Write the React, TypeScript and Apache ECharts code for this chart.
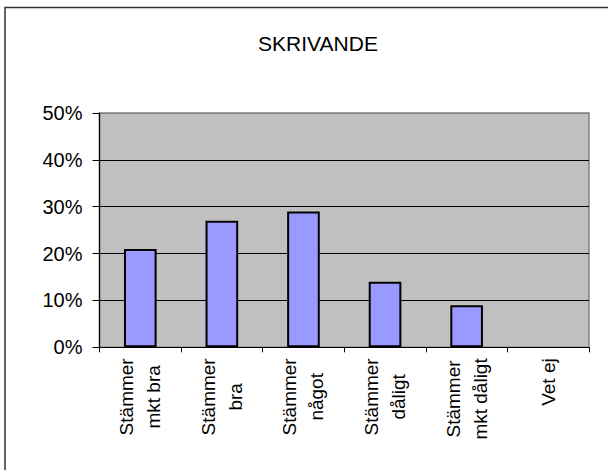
import React, { useEffect, useRef } from "react";
import * as echarts from "echarts";

const title = "SKRIVANDE";
const categories = [
  "Stämmer\nmkt bra",
  "Stämmer\nbra",
  "Stämmer\nnågot",
  "Stämmer\ndåligt",
  "Stämmer\nmkt dåligt",
  "Vet ej",
];
const values = [0.21, 0.27, 0.29, 0.14, 0.09, 0];
const yMin = 0;
const yMax = 0.5;
const yStep = 0.1;

const FONT = "'Liberation Sans', Arial, sans-serif";
const XFONT_SIZE = 19;
const XLINE_HEIGHT = 27;

const PLOT = { left: 99.5, right: 19, top: 113, bottom: 122.7 };

export default function App() {
  const ref = useRef<HTMLDivElement>(null);
  useEffect(() => {
    if (!ref.current) return;
    const canvas = document.createElement("canvas");
    const ctx = canvas.getContext("2d");
    const measure = (s: string) => {
      if (!ctx) return 0;
      ctx.font = `${XFONT_SIZE}px ${FONT}`;
      return ctx.measureText(s).width;
    };
    const splitLines = categories.map((c) => c.split("\n"));
    const half = XLINE_HEIGHT / 2;
    const grids = [
      { ...PLOT, show: true, backgroundColor: "#c0c0c0", borderColor: "#808080", borderWidth: 1.5 },
      { ...PLOT, left: PLOT.left - half, right: PLOT.right + half, show: false },
      { ...PLOT, left: PLOT.left + half, right: PLOT.right - half, show: false },
    ].map((g) => ({ ...g, containLabel: false, outerBoundsMode: "none" }));
    const labelStyle = {
      interval: 0,
      rotate: 90,
      margin: 11,
      color: "#000",
      fontFamily: FONT,
      fontSize: XFONT_SIZE,
      lineHeight: XLINE_HEIGHT,
    };
    const xAxes: any[] = [
      {
        type: "category",
        gridIndex: 0,
        position: "bottom",
        data: splitLines.map((lines) => (lines.length === 1 ? lines[0] : "")),
        boundaryGap: true,
        axisLine: { show: true, lineStyle: { color: "#000", width: 1.2 } },
        axisTick: { show: true, length: 5, inside: false, alignWithLabel: false, lineStyle: { color: "#000" } },
        splitLine: { show: false },
        axisLabel: labelStyle,
      },
    ];
    // two-line labels: each line on its own label axis, shifted so the lines are centred
    splitLines.forEach((lines, k) => {
      if (lines.length < 2) return;
      const maxW = Math.max(...lines.map(measure));
      lines.forEach((text, j) => {
        xAxes.push({
          type: "category",
          gridIndex: j + 1,
          position: "bottom",
          offset: (maxW - measure(text)) / 2,
          data: categories.map((_, m) => (m === k ? text : "")),
          boundaryGap: true,
          axisLine: { show: false },
          axisTick: { show: false },
          splitLine: { show: false },
          axisLabel: labelStyle,
        });
      });
    });
    const chart = echarts.init(ref.current, null, { renderer: "svg" });
    chart.setOption({
      animation: false,
      backgroundColor: "#ffffff",
      textStyle: { fontFamily: FONT },
      title: {
        text: title,
        left: 313,
        top: 28,
        textAlign: "center",
        textStyle: { fontFamily: FONT, fontSize: 21, fontWeight: "normal", color: "#000" },
      },
      graphic: [
        {
          type: "rect",
          shape: { x: 5, y: 7.5, width: 700, height: 600 },
          style: { fill: "none", stroke: "#333333", lineWidth: 1.5 },
          silent: true,
        },
      ],
      grid: grids,
      xAxis: xAxes,
      yAxis: [
        {
          type: "value",
          gridIndex: 0,
          min: yMin,
          max: yMax,
          interval: yStep,
          axisLine: { show: true, lineStyle: { color: "#000", width: 1.2 } },
          axisTick: { show: true, length: 7, lineStyle: { color: "#000" } },
          splitLine: {
            show: true,
            lineStyle: {
              color: ["#000", "#000", "#000", "#000", "#000", "#808080"],
              width: 1,
            },
          },
          axisLabel: {
            margin: 17,
            color: "#000",
            fontFamily: FONT,
            fontSize: 20,
            formatter: (v: number) => `${Math.round(v * 100)}%`,
          },
        },
        { type: "value", gridIndex: 1, min: yMin, max: yMax, show: false },
        { type: "value", gridIndex: 2, min: yMin, max: yMax, show: false },
      ],
      series: [
        {
          type: "bar",
          xAxisIndex: 0,
          yAxisIndex: 0,
          data: values.map((v) => ({
            value: v,
            itemStyle: v === 0 ? { borderWidth: 0 } : undefined,
          })),
          barWidth: "40%",
          itemStyle: { color: "#9999ff", borderColor: "#000", borderWidth: 2 },
        },
      ],
    });
    return () => chart.dispose();
  }, []);
  return (
    <div
      ref={ref}
      style={{ position: "fixed", left: 0, top: 0, width: 608, height: 470, background: "#fff" }}
    />
  );
}
